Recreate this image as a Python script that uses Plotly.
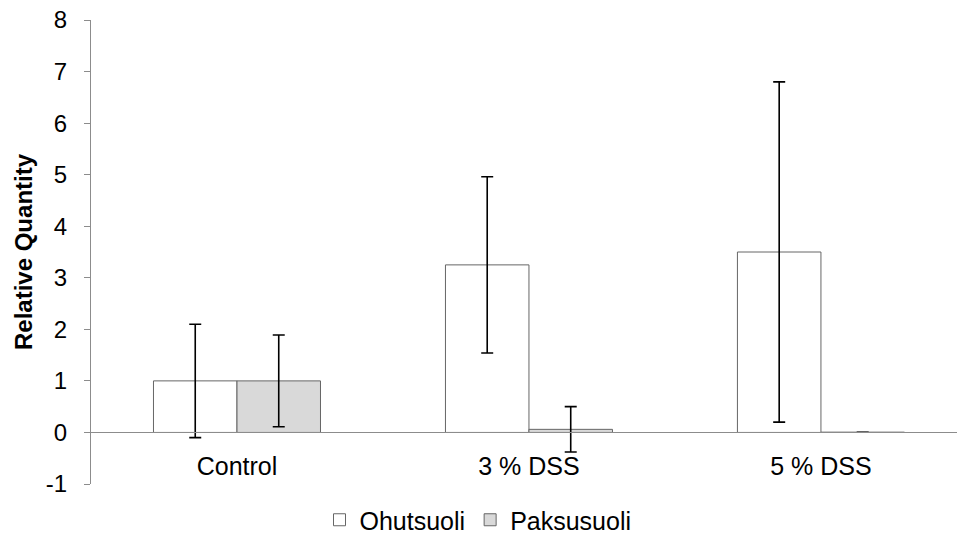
import plotly.graph_objects as go

categories = ["Control", "3 % DSS", "5 % DSS"]
ohut_values = [1.0, 3.25, 3.5]
ohut_errors = [1.1, 1.71, 3.3]
paksu_values = [1.0, 0.06, 0.005]
paksu_errors = [0.89, 0.44, 0.0]
y_tick_values = [-1, 0, 1, 2, 3, 4, 5, 6, 7, 8]
y_tick_labels = ["-1", "0", "1", "2", "3", "4", "5", "6", "7", "8"]

font_family = "Liberation Sans, Arial, sans-serif"

fig = go.Figure()
fig.add_trace(go.Bar(
    name="Ohutsuoli", x=categories, y=ohut_values,
    marker=dict(color="white", line=dict(color="#666666", width=1)),
    error_y=dict(type="data", array=ohut_errors, color="black", thickness=1.6, width=6),
))
fig.add_trace(go.Bar(
    name="Paksusuoli", x=categories, y=paksu_values,
    marker=dict(color="#d9d9d9", line=dict(color="#666666", width=1)),
    error_y=dict(type="data", array=paksu_errors, color="black", thickness=1.6, width=6),
))

fig.update_layout(
    width=957, height=549,
    margin=dict(l=91, r=0, t=20, b=65, autoexpand=False),
    plot_bgcolor="white", paper_bgcolor="white",
    barmode="group", bargap=0.428, bargroupgap=0,
    font=dict(family=font_family, size=25, color="black"),
    showlegend=True,
    legend=dict(orientation="h", x=(478 - 91) / 866, xanchor="center",
                y=(484 - 520) / 464, yanchor="middle",
                font=dict(size=25), itemwidth=30, tracegroupgap=0),
    xaxis=dict(
        range=[-0.5, 2.466], anchor="free", position=1 / 9,
        showline=True, linecolor="#8c8c8c", linewidth=1,
        ticks="outside", ticklen=12, tickcolor="rgba(0,0,0,0)",
        showgrid=False, zeroline=False,
        tickfont=dict(size=25),
    ),
    yaxis=dict(
        range=[-1, 8], tickmode="array", tickvals=y_tick_values, ticktext=y_tick_labels,
        showline=True, linecolor="#8c8c8c", linewidth=1,
        ticks="outside", ticklen=6, tickcolor="#8c8c8c",
        showgrid=False, zeroline=False,
        tickfont=dict(size=24),
        ticklabelstandoff=12,
        title=dict(text="<b>Relative Quantity</b>", font=dict(size=24), standoff=6),
    ),
)

fig.write_html("out.html", config={"displayModeBar": False},
               post_script="document.body.style.margin='0';")
